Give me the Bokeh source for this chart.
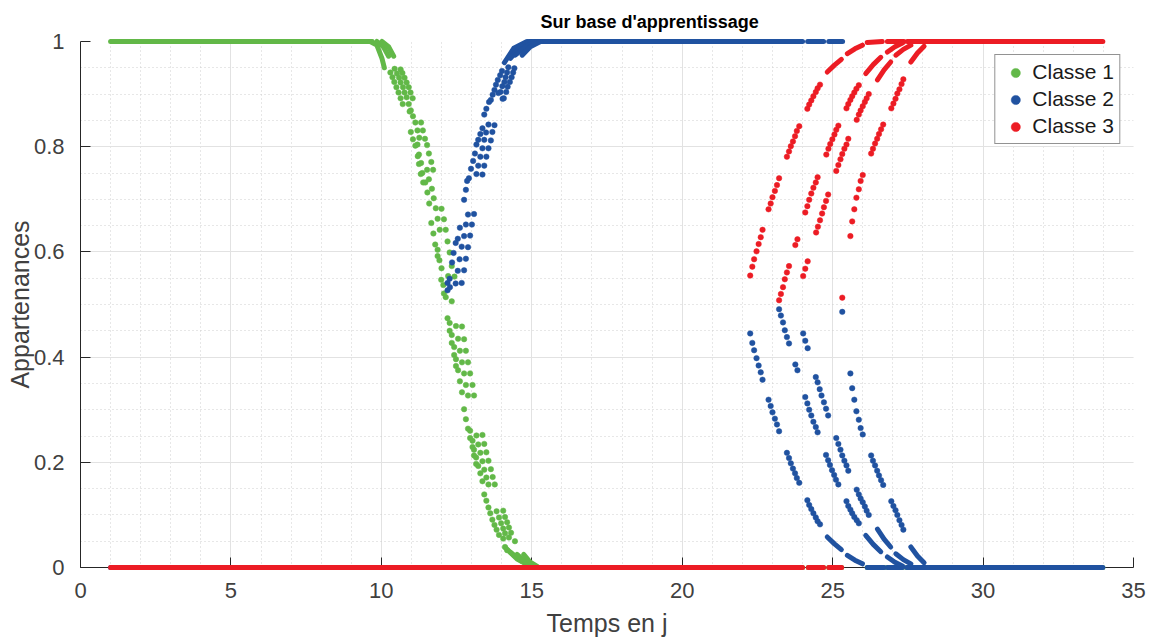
from bokeh.plotting import figure
from bokeh.models import Range1d, FixedTicker, Legend, LegendItem
from bokeh.embed import file_html
from bokeh.resources import INLINE

TITLE = "Sur base d'apprentissage"
X_LABEL = "Temps en j"
Y_LABEL = "Appartenances"
CLASSES = ["Classe 1", "Classe 2", "Classe 3"]
COLORS = ["#62B848", "#2052A0", "#EC1C24"]
X_TICKS = [0, 5, 10, 15, 20, 25, 30, 35]
X_MINOR = [0, 1, 2, 3, 4, 5, 6, 7, 8, 9, 10, 11, 12, 13, 14, 15, 16, 17, 18, 19, 20,
           21, 22, 23, 24, 25, 26, 27, 28, 29, 30, 31, 32, 33, 34, 35]
Y_TICKS = [0, 0.2, 0.4, 0.6, 0.8, 1]
Y_TICK_LABELS = ["0", "0.2", "0.4", "0.6", "0.8", "1"]
Y_MINOR = [0, 0.05, 0.1, 0.15, 0.2, 0.25, 0.3, 0.35, 0.4, 0.45, 0.5,
           0.55, 0.6, 0.65, 0.7, 0.75, 0.8, 0.85, 0.9, 0.95, 1]

# ---------------- Classe 1 (green) ----------------
# dense runs (plateaus and densely sampled curves)
c1_runs_x = [[1.0, 9.70], [15.10, 24.00], [24.19, 24.70], [24.87, 25.30], [26.15, 26.71],
             [26.82, 27.32], [27.46, 33.98],
             [9.63, 9.85, 10.02, 10.10], [9.85, 10.07, 10.24], [10.02, 10.24, 10.41],
             [14.12, 14.51, 14.95], [14.29, 14.65, 15.06], [14.51, 14.80, 15.15],
             [14.73, 14.95, 15.18]]
c1_runs_y = [[1, 1], [0, 0], [0, 0], [0, 0], [0, 0], [0, 0], [0, 0],
             [1.0, 0.993, 0.968, 0.95], [1.0, 0.99, 0.972], [1.0, 0.99, 0.972],
             [0.038, 0.016, 0.003], [0.029, 0.012, 0.002], [0.025, 0.010, 0.002],
             [0.025, 0.010, 0.002]]
c1_x = [10.44, 10.64, 10.30, 10.52, 10.70, 10.37, 10.59, 10.77, 10.43, 10.64, 10.84,
        10.50, 10.72, 10.91, 10.57, 10.77, 10.97, 10.64, 10.84, 11.04, 10.71, 10.91,
        10.98, 10.94, 11.05, 11.13, 11.32, 10.98, 11.20, 11.38, 11.05, 11.26, 11.45,
        11.13, 11.20, 11.52, 11.25, 11.21, 11.58, 11.32, 11.25, 11.66,
        11.36, 11.31, 11.52, 11.72, 11.39, 11.46, 11.58, 11.53, 11.68, 11.59, 11.74,
        11.81, 12.00, 11.66, 11.87, 12.08, 11.73, 11.94, 12.14, 11.79, 12.20,
        11.87, 12.27, 11.87, 11.93, 12.00, 12.34, 11.99, 12.22, 12.43, 12.06,
        12.14, 12.08, 12.34,
        12.20, 12.27, 12.48, 12.68, 12.27, 12.34, 12.55, 12.75, 12.34, 12.42, 12.61, 12.81,
        12.42, 12.48, 12.68, 12.88, 12.48, 12.55, 12.75, 12.95, 12.61, 12.81, 13.03,
        12.68, 12.88, 13.08, 12.75, 12.81,
        12.88, 12.95, 13.16, 13.36, 12.95, 13.03, 13.22, 13.42, 13.03, 13.08, 13.29, 13.49,
        13.08, 13.15, 13.36, 13.56, 13.15, 13.22, 13.42, 13.64, 13.29, 13.49, 13.70,
        13.36, 13.56, 13.77, 13.42, 13.49,
        13.56, 13.62, 13.83, 14.05, 13.69, 13.91, 14.11, 13.76, 13.98, 14.18,
        13.83, 14.05, 14.24, 13.91, 14.11, 14.31, 14.05, 14.24, 14.44, 14.11, 14.18]
c1_y = [0.948, 0.947, 0.941, 0.939, 0.940, 0.932, 0.931, 0.931, 0.923, 0.922, 0.922,
        0.913, 0.913, 0.913, 0.903, 0.903, 0.903, 0.892, 0.894, 0.892, 0.881, 0.881,
        0.869, 0.867, 0.858, 0.846, 0.846, 0.828, 0.831, 0.831, 0.814, 0.817, 0.815,
        0.802, 0.804, 0.803, 0.785, 0.782, 0.787, 0.769, 0.767, 0.771,
        0.750, 0.748, 0.756, 0.756, 0.732, 0.732, 0.738, 0.713, 0.720, 0.692, 0.702,
        0.683, 0.682, 0.655, 0.663, 0.662, 0.635, 0.642, 0.642, 0.614, 0.620,
        0.604, 0.599, 0.592, 0.584, 0.569, 0.573, 0.547, 0.554, 0.553, 0.537,
        0.514, 0.521, 0.506,
        0.474, 0.465, 0.459, 0.458, 0.450, 0.442, 0.435, 0.434, 0.427, 0.419, 0.412, 0.412,
        0.404, 0.396, 0.390, 0.390, 0.383, 0.375, 0.369, 0.369, 0.354, 0.347, 0.347,
        0.333, 0.327, 0.327, 0.301, 0.282,
        0.264, 0.260, 0.251, 0.252, 0.246, 0.241, 0.234, 0.235, 0.229, 0.224, 0.218, 0.219,
        0.213, 0.209, 0.202, 0.203, 0.197, 0.193, 0.186, 0.187, 0.179, 0.171, 0.172,
        0.164, 0.158, 0.158, 0.139, 0.127,
        0.114, 0.103, 0.107, 0.108, 0.091, 0.095, 0.096, 0.081, 0.084, 0.086,
        0.072, 0.074, 0.076, 0.062, 0.065, 0.066, 0.055, 0.057, 0.050, 0.039, 0.033]

# ---------------- Classe 2 (blue) ----------------
c2_runs_x = [[1.0, 12.20], [14.90, 24.00], [24.17, 24.70], [24.87, 25.33], [26.15, 26.71],
             [26.82, 27.32], [27.46, 33.98],
             [14.09, 14.40, 14.84], [14.29, 14.62, 15.01], [14.45, 14.79, 15.18],
             [14.68, 14.95, 15.29],
             [24.82, 25.06, 25.29], [25.49, 25.74, 25.99], [26.10, 26.35, 26.60],
             [26.49, 26.71, 26.93], [26.82, 27.07, 27.32], [27.10, 27.35, 27.60],
             [27.60, 27.82, 28.04]]
c2_runs_y = [[0, 0], [1, 1], [1, 1], [1, 1], [0, 0], [0, 0], [0, 0],
             [0.960, 0.987, 1.0], [0.968, 0.990, 1.0], [0.974, 0.990, 1.0],
             [0.974, 0.990, 1.0],
             [0.058, 0.045, 0.034], [0.023, 0.014, 0.007], [0.061, 0.044, 0.030],
             [0.073, 0.054, 0.039], [0.020, 0.010, 0.003], [0.026, 0.015, 0.007],
             [0.039, 0.022, 0.009]]
c2_x = [14.22, 14.42, 14.01, 14.18, 14.38, 13.95, 14.13, 14.33, 13.87, 14.09, 14.27,
        13.81, 14.02, 14.20, 13.76, 13.96, 14.15, 13.70, 13.89, 14.07, 13.64, 14.03,
        13.58, 13.49, 13.42, 13.56, 13.76, 13.36, 13.69, 13.29, 13.48,
        13.22, 13.42, 13.64, 13.16, 13.36, 13.56, 13.11, 13.29, 13.49,
        13.05, 13.22, 13.42, 12.98, 13.16, 13.36, 12.91, 12.85, 12.81, 12.75,
        12.88, 13.08, 12.61, 12.81, 13.01, 12.54, 12.75, 12.95, 12.47, 12.67, 12.88,
        12.40, 12.60, 12.81, 12.35, 12.54, 12.75, 12.27, 12.47, 12.67, 12.20, 12.20, 12.28,
        22.26, 22.33, 22.39, 22.47, 22.54, 22.61, 22.67,
        22.87, 22.94, 23.00, 23.08, 23.15, 23.22,
        23.22, 23.28, 23.35, 23.41, 23.48, 23.55,
        23.48, 23.55, 23.61, 23.68, 23.75, 23.81, 23.89,
        23.76, 23.83,
        24.02, 24.09, 24.17,
        24.09, 24.16, 24.22, 24.29, 24.36, 24.44, 24.50,
        24.16, 24.22, 24.29, 24.36, 24.44, 24.50, 24.58,
        24.44, 24.50, 24.57, 24.63, 24.71, 24.78, 24.85,
        24.78, 24.85, 24.91, 24.98, 25.05, 25.11, 25.19,
        25.12, 25.19, 25.26, 25.32, 25.39, 25.46, 25.52,
        25.32,
        25.46, 25.52, 25.59, 25.65, 25.72, 25.80, 25.87,
        25.59, 25.65, 25.72, 25.79, 25.87, 25.93, 26.00,
        25.80, 25.87, 25.93, 26.00, 26.07, 26.13, 26.20,
        26.28, 26.34, 26.41, 26.48, 26.54, 26.61, 26.68,
        26.95, 27.02, 27.09, 27.15, 27.22, 27.29, 27.35]
c2_y = [0.951, 0.949, 0.944, 0.941, 0.941, 0.936, 0.932, 0.932, 0.927, 0.923, 0.923,
        0.918, 0.915, 0.914, 0.908, 0.904, 0.904, 0.899, 0.902, 0.892, 0.889, 0.891,
        0.885, 0.872, 0.861, 0.842, 0.841, 0.835, 0.828, 0.824, 0.827,
        0.813, 0.813, 0.812, 0.804, 0.797, 0.797, 0.787, 0.781, 0.781,
        0.773, 0.764, 0.764, 0.758, 0.748, 0.747, 0.740, 0.735, 0.718, 0.699,
        0.671, 0.672, 0.646, 0.652, 0.652, 0.625, 0.630, 0.631, 0.617, 0.610, 0.609,
        0.598, 0.586, 0.587, 0.580, 0.564, 0.565, 0.549, 0.540, 0.541, 0.541, 0.527, 0.533,
        0.445, 0.427, 0.413, 0.398, 0.384, 0.371, 0.357,
        0.319, 0.307, 0.295, 0.283, 0.272, 0.259,
        0.491, 0.479, 0.466, 0.451, 0.438, 0.426,
        0.218, 0.208, 0.198, 0.188, 0.179, 0.170, 0.161,
        0.386, 0.375,
        0.445, 0.431, 0.417,
        0.324, 0.312, 0.300, 0.289, 0.277, 0.267, 0.257,
        0.128, 0.119, 0.111, 0.103, 0.095, 0.088, 0.082,
        0.362, 0.352, 0.339, 0.327, 0.314, 0.302, 0.289,
        0.214, 0.204, 0.195, 0.185, 0.176, 0.167, 0.158,
        0.246, 0.235, 0.224, 0.213, 0.203, 0.194, 0.184,
        0.486,
        0.126, 0.117, 0.110, 0.103, 0.096, 0.090, 0.084,
        0.369, 0.341, 0.319, 0.297, 0.281, 0.265, 0.253,
        0.148, 0.139, 0.131, 0.124, 0.116, 0.108, 0.100,
        0.213, 0.203, 0.194, 0.184, 0.175, 0.166, 0.157,
        0.126, 0.117, 0.109, 0.100, 0.090, 0.081, 0.072]

# ---------------- Classe 3 (red) ----------------
c3_runs_x = [[1.0, 24.00], [24.19, 24.70], [24.87, 25.30], [26.15, 26.65], [26.82, 27.37],
             [27.48, 33.98],
             [24.82, 25.06, 25.29], [25.49, 25.74, 25.99], [26.10, 26.35, 26.60],
             [26.49, 26.71, 26.93], [26.82, 27.07, 27.32], [27.10, 27.35, 27.60],
             [27.60, 27.82, 28.04]]
c3_runs_y = [[0, 0], [0, 0], [0, 0], [0.998, 1.0], [1, 1], [1, 1],
             [0.942, 0.955, 0.966], [0.977, 0.986, 0.993], [0.939, 0.956, 0.970],
             [0.927, 0.946, 0.961], [0.980, 0.990, 0.997], [0.974, 0.985, 0.993],
             [0.961, 0.978, 0.991]]
c3_x = [22.26, 22.33, 22.39, 22.47, 22.54, 22.61, 22.67,
        22.87, 22.94, 23.00, 23.08, 23.15, 23.22,
        23.22, 23.28, 23.35, 23.41, 23.48, 23.55,
        23.48, 23.55, 23.61, 23.68, 23.75, 23.81, 23.89,
        23.76, 23.83,
        24.02, 24.09, 24.17,
        24.09, 24.16, 24.22, 24.29, 24.36, 24.44, 24.50,
        24.16, 24.22, 24.29, 24.36, 24.44, 24.50, 24.58,
        24.45, 24.51, 24.58, 24.65, 24.71, 24.78, 24.85,
        24.79, 24.86, 24.92, 24.99, 25.06, 25.12, 25.19,
        25.12, 25.19, 25.26, 25.32, 25.39, 25.46, 25.52,
        25.46, 25.52, 25.59, 25.65, 25.72, 25.79, 25.87,
        25.59, 25.65, 25.72, 25.79, 25.87, 25.93, 26.00,
        25.80, 25.87, 25.93, 26.00, 26.07, 26.13, 26.20,
        25.32,
        26.28, 26.34, 26.41, 26.48, 26.54, 26.61, 26.68,
        26.95, 27.02, 27.09, 27.15, 27.22, 27.29, 27.35]
c3_y = [0.555, 0.572, 0.586, 0.601, 0.615, 0.628, 0.642,
        0.681, 0.692, 0.704, 0.716, 0.727, 0.740,
        0.508, 0.520, 0.533, 0.548, 0.561, 0.573,
        0.781, 0.791, 0.801, 0.810, 0.820, 0.830, 0.839,
        0.613, 0.624,
        0.554, 0.568, 0.582,
        0.675, 0.687, 0.699, 0.711, 0.722, 0.732, 0.742,
        0.872, 0.880, 0.888, 0.896, 0.904, 0.911, 0.918,
        0.637, 0.648, 0.660, 0.673, 0.685, 0.697, 0.709,
        0.785, 0.796, 0.805, 0.814, 0.823, 0.832, 0.840,
        0.754, 0.765, 0.776, 0.786, 0.796, 0.804, 0.815,
        0.873, 0.881, 0.889, 0.896, 0.903, 0.910, 0.917,
        0.630, 0.658, 0.681, 0.703, 0.719, 0.735, 0.746,
        0.851, 0.861, 0.869, 0.877, 0.885, 0.892, 0.900,
        0.513,
        0.787, 0.796, 0.806, 0.815, 0.824, 0.833, 0.842,
        0.873, 0.882, 0.891, 0.901, 0.909, 0.919, 0.928]

FONT = "Liberation Sans"

p = figure(width=1157, height=641, output_backend="svg", toolbar_location=None,
           x_range=Range1d(0, 35), y_range=Range1d(0, 1),
           min_border_left=80, min_border_right=24, min_border_top=41, min_border_bottom=74)
p.outline_line_color = None
p.background_fill_color = "white"
p.border_fill_color = "white"

p.title.text = TITLE
p.title.align = "left"
p.title.offset = 460
p.title.standoff = 19
p.title.text_font = FONT
p.title.text_font_size = "18px"
p.title.text_font_style = "bold"
p.title.text_color = "#000000"

p.xaxis.axis_label = X_LABEL
p.yaxis.axis_label = Y_LABEL
p.xaxis.ticker = FixedTicker(ticks=X_TICKS, minor_ticks=X_MINOR)
p.yaxis.ticker = FixedTicker(ticks=Y_TICKS, minor_ticks=Y_MINOR)
p.yaxis.major_label_overrides = {t: l for t, l in zip(Y_TICKS, Y_TICK_LABELS)}
for ax in (p.xaxis[0], p.yaxis[0]):
    ax.axis_line_color = "#262626"
    ax.axis_line_width = 1
    ax.major_tick_line_color = "#262626"
    ax.major_tick_in = 10
    ax.major_tick_out = 0
    ax.minor_tick_line_color = None
    ax.major_label_text_font = FONT
    ax.major_label_text_font_size = "22px"
    ax.major_label_text_color = "#404040"
    ax.axis_label_text_font = FONT
    ax.axis_label_text_font_size = "25px"
    ax.axis_label_text_font_style = "normal"
    ax.axis_label_text_color = "#404040"
p.yaxis.major_label_standoff = 12
p.yaxis.axis_label_standoff = -3
p.xaxis.major_label_standoff = 11
p.xaxis.axis_label_standoff = 8

for g in (p.xgrid[0], p.ygrid[0]):
    g.grid_line_color = "#E2E2E2"
    g.grid_line_width = 1
    g.minor_grid_line_color = "#CFCFCF"
    g.minor_grid_line_dash = "1 3"
    g.minor_grid_line_width = 1

series = [
    (c1_runs_x, c1_runs_y, c1_x, c1_y),
    (c2_runs_x, c2_runs_y, c2_x, c2_y),
    (c3_runs_x, c3_runs_y, c3_x, c3_y),
]
items = []
for (rx, ry, sx, sy), name, col in zip(series, CLASSES, COLORS):
    ml = p.multi_line(rx, ry, line_color=col, line_width=5, line_cap="round", line_join="round")
    sc = p.scatter(sx, sy, marker="circle", size=5.5, fill_color=col, line_color=col, line_width=0.5)
    ml.level = "overlay"
    sc.level = "overlay"
    items.append(LegendItem(label=name, renderers=[sc]))

legend = Legend(items=items, location="top_right", margin=13, padding=5, spacing=3,
                label_height=23, glyph_height=23, glyph_width=30, label_standoff=2,
                label_text_font=FONT, label_text_font_size="21px", label_text_color="#1A1A1A",
                border_line_color="#262626", border_line_width=1,
                background_fill_color="white", background_fill_alpha=1.0)
p.add_layout(legend)

open("out.html", "w").write(file_html(p, INLINE))
